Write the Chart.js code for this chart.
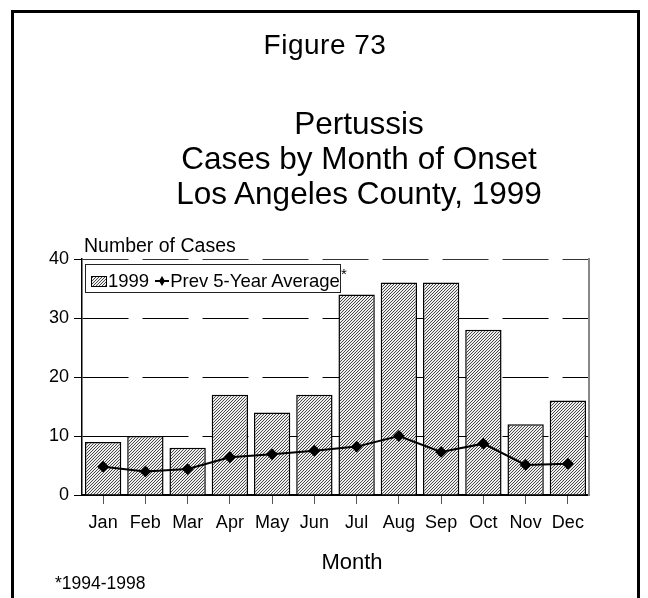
<!DOCTYPE html>
<html>
<head>
<meta charset="utf-8">
<script src="https://cdn.jsdelivr.net/npm/chart.js@4.4.1/dist/chart.umd.min.js"></script>
<style>
body{margin:0;background:#fff;font-family:"Liberation Sans",Arial,sans-serif;}
#wrap{position:relative;width:648px;height:598px;overflow:hidden;background:#fff;}
#frame{position:absolute;left:11px;top:10px;width:623px;height:700px;border:3px solid #000;}
#chart{position:absolute;left:0;top:0;}
.txt{position:absolute;white-space:nowrap;color:#000;line-height:1;}
#fig{left:325px;top:31px;font-size:28px;transform:translateX(-50%);letter-spacing:0.5px;}
#title{left:359px;top:106px;font-size:31.5px;line-height:35px;text-align:center;transform:translateX(-50%);}
#ylab{left:84px;top:236px;font-size:19.5px;}
#xlab{left:352px;top:551px;font-size:22px;transform:translateX(-50%);}
#note{left:55px;top:575px;font-size:17.5px;}
#legend{position:absolute;left:85px;top:264px;width:254px;height:27px;border:1px solid #222;font-size:18.5px;line-height:27px;white-space:nowrap;overflow:visible;}
#legend span{display:inline-block;vertical-align:middle;}
#star{left:341px;top:266px;font-size:15px;}
</style>
</head>
<body>
<div id="wrap">
  <div id="frame"></div>
  <canvas id="chart" width="648" height="598"></canvas>
  <div class="txt" id="fig">Figure 73</div>
  <div class="txt" id="title">Pertussis<br>Cases by Month of Onset<br>Los Angeles County, 1999</div>
  <div class="txt" id="ylab">Number of Cases</div>
  <div class="txt" id="xlab">Month</div>
  <div class="txt" id="note">*1994-1998</div>
  <div id="legend"></div>
  <div class="txt" id="star">*</div>
</div>
<script>
// data
const months = ['Jan', 'Feb', 'Mar', 'Apr', 'May', 'Jun', 'Jul', 'Aug', 'Sep', 'Oct', 'Nov', 'Dec'];
const cases1999 = [9, 10, 8, 17, 14, 17, 34, 36, 36, 28, 12, 16];
const prevAvg = [4.8, 4.0, 4.4, 6.4, 6.9, 7.5, 8.2, 10.0, 7.3, 8.7, 5.1, 5.3];
const yTicks = [0, 10, 20, 30, 40];
const seriesNames = ['1999', 'Prev 5-Year Average'];

// diagonal hatch fill
function hatchCanvas(){
    const c = document.createElement('canvas');
    c.width = 3; c.height = 3;
    const g = c.getContext('2d');
    g.fillStyle = '#eeeeee';
    g.fillRect(0, 0, 3, 3);
    g.fillStyle = '#4a4a4a';
    g.fillRect(2, 0, 1, 1);
    g.fillRect(1, 1, 1, 1);
    g.fillRect(0, 2, 1, 1);
    return c;
}
const tile = hatchCanvas();
const hatch = document.getElementById('chart').getContext('2d').createPattern(tile, 'repeat');

// legend
const legend = document.getElementById('legend');
const sw = document.createElement('canvas');
sw.width = 16; sw.height = 11;
const sg = sw.getContext('2d');
sg.fillStyle = sg.createPattern(tile, 'repeat');
sg.fillRect(0, 0, 16, 11);
sg.strokeStyle = '#000';
sg.lineWidth = 1;
sg.strokeRect(0.5, 0.5, 15, 10);
const mk = document.createElement('canvas');
mk.width = 14; mk.height = 12;
const mg = mk.getContext('2d');
mg.strokeStyle = '#000'; mg.lineWidth = 2;
mg.beginPath(); mg.moveTo(0, 6); mg.lineTo(14, 6); mg.stroke();
mg.fillStyle = '#000';
mg.beginPath(); mg.moveTo(7, 1); mg.lineTo(10, 6); mg.lineTo(7, 11); mg.lineTo(4, 6); mg.closePath(); mg.fill();

function item(el, text, gap){
    const s = document.createElement('span');
    s.style.marginLeft = gap + 'px';
    s.appendChild(el);
    legend.appendChild(s);
    const t = document.createElement('span');
    t.textContent = text;
    t.style.marginLeft = '1px';
    legend.appendChild(t);
}
item(sw, seriesNames[0], 5);
item(mk, seriesNames[1], 6);

const ctx = document.getElementById('chart');
new Chart(ctx, {
    type: 'bar',
    data: {
        labels: months,
        datasets: [{
            type: 'line',
            label: seriesNames[1],
            data: prevAvg,
            borderColor: '#000',
            borderWidth: 2,
            pointStyle: 'rectRot',
            pointRadius: 4.5,
            pointBackgroundColor: '#000',
            pointBorderColor: '#000',
            tension: 0,
            order: 0
        }, {
            label: seriesNames[0],
            data: cases1999,
            backgroundColor: hatch,
            borderColor: '#000',
            borderWidth: 1.5,
            barPercentage: 0.86,
            categoryPercentage: 1,
            order: 1
        }]
    },
    options: {
        responsive: false,
        animation: false,
        events: [],
        layout: {padding: {top: 259, left: 0, right: 0, bottom: 0}},
        plugins: {legend: {display: false}, tooltip: {enabled: false}},
        scales: {
            x: {
                afterFit: s => { s.height = 103; },
                grid: {drawOnChartArea: false, offset: false, tickLength: 9, color: '#555', lineWidth: 1},
                border: {color: '#000', width: 2},
                ticks: {color: '#000', padding: 8, font: {family: '"Liberation Sans", Arial', size: 18}}
            },
            y: {
                min: yTicks[0],
                max: yTicks[yTicks.length - 1],
                afterFit: s => { s.width = 82; },
                afterBuildTicks: s => { s.ticks = yTicks.map(v => ({value: v})); },
                grid: {
                    color: c => c.tick && c.tick.value === 40 ? '#333' : '#000',
                    lineWidth: 1,
                    tickLength: 8,
                    tickBorderDash: [],
                    tickColor: '#000'
                },
                border: {color: '#000', width: 1.5, dash: [46, 14]},
                ticks: {color: '#000', padding: 5, font: {family: '"Liberation Sans", Arial', size: 18}}
            },
            y2: {
                position: 'right',
                min: 0,
                max: 40,
                afterFit: s => { s.width = 59; },
                grid: {drawOnChartArea: false, drawTicks: false},
                border: {color: '#888', width: 2},
                ticks: {display: false}
            }
        }
    }
});
</script>
</body>
</html>
